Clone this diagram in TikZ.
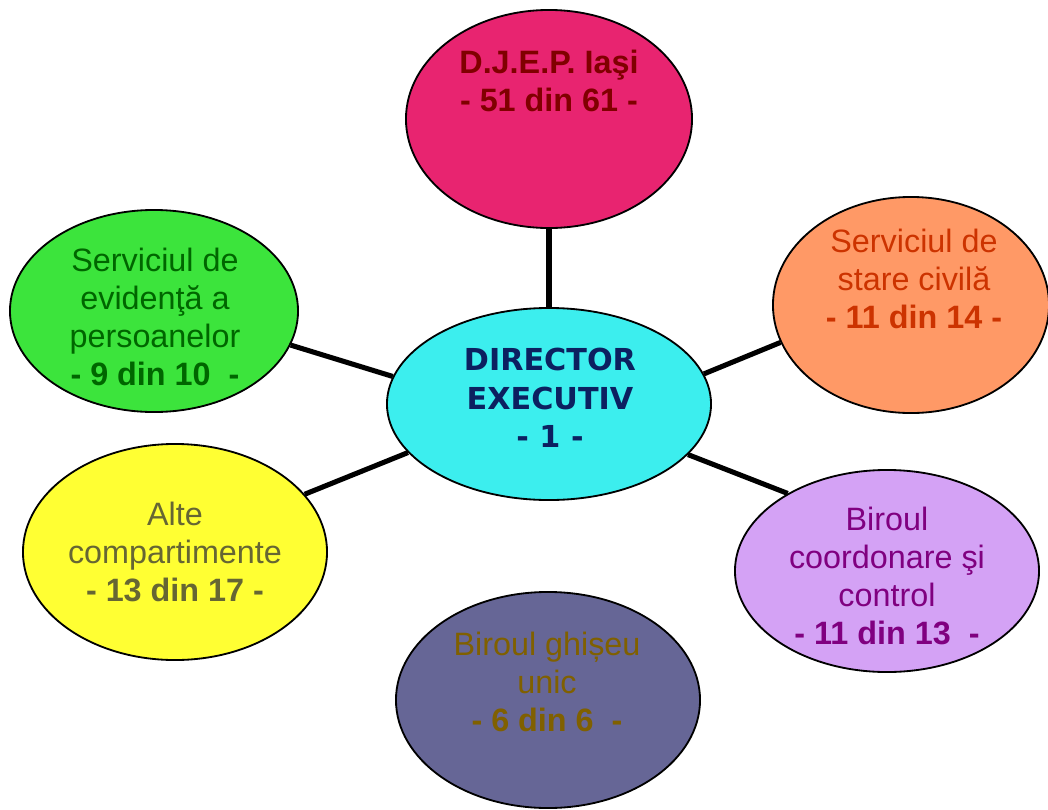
\documentclass[tikz,border=0pt]{standalone}
\usepackage{fontspec}
\setmainfont{Liberation Sans}
\newfontfamily\dirfont{DejaVu Sans}
\usetikzlibrary{shapes.geometric}

% fills
\definecolor{djepfill}{RGB}{232,36,112}
\definecolor{dirfill}{RGB}{60,238,238}
\definecolor{evidfill}{RGB}{60,228,60}
\definecolor{starefill}{RGB}{255,153,102}
\definecolor{altefill}{RGB}{255,255,51}
\definecolor{biroufill}{RGB}{212,162,245}
\definecolor{ghiseufill}{RGB}{102,102,150}
% texts
\definecolor{djeptext}{RGB}{128,0,0}
\definecolor{dirtext}{RGB}{12,32,96}
\definecolor{evidtext}{RGB}{0,102,0}
\definecolor{staretext}{RGB}{204,51,0}
\definecolor{altetext}{RGB}{102,102,51}
\definecolor{biroutext}{RGB}{128,0,128}
\definecolor{ghiseutext}{RGB}{128,96,0}

\tikzset{
  bubble/.style={ellipse, draw=black, line width=1.3pt, inner sep=0pt},
  txt/.style={align=center, font=\fontsize{23}{27}\selectfont},
  link/.style={line width=3.6pt}
}

\begin{document}
\begin{tikzpicture}[x=0.025cm, y=-0.025cm]
  \useasboundingbox (0,0) rectangle (1048,810);

  % Ellipses
  \node[bubble, fill=djepfill, minimum width=7.15cm, minimum height=5.45cm] (djep) at (549,119) {};
  \node[bubble, fill=dirfill, minimum width=8.1cm, minimum height=4.8cm] (dir) at (549,404) {};
  \node[bubble, fill=evidfill, minimum width=7.2cm, minimum height=5.05cm] (evid) at (154,311) {};
  \node[bubble, fill=starefill, minimum width=6.9cm, minimum height=5.4cm] (stare) at (911,305) {};
  \node[bubble, fill=altefill, minimum width=7.6cm, minimum height=5.4cm] (alte) at (175,552) {};
  \node[bubble, fill=biroufill, minimum width=7.6cm, minimum height=5.05cm] (birou) at (887,571) {};
  \node[bubble, fill=ghiseufill, minimum width=7.6cm, minimum height=5.4cm] (ghiseu) at (548,700) {};

  % Connectors
  \draw[link] (dir.90) -- (djep.-90);
  \draw[link] (dir.170) -- (evid.-14);
  \draw[link] (dir.11) -- (stare.196);
  \draw[link] (dir.199) -- (alte.24);
  \draw[link] (dir.-20) -- (birou.142);

  % Texts
  \node[txt, text=djeptext, font=\fontsize{23}{27}\selectfont\bfseries] (djepT) at (549,81)
    {D.J.E.P. Iaşi\\- 51 din 61 -};
  \node[txt, text=dirtext, font=\dirfont\fontsize{21.5}{27.5}\selectfont\bfseries] (dirT) at (550,398)
    {DIRECTOR\\EXECUTIV\\- 1 -};
  \node[txt, text=evidtext] (evidT) at (155,317)
    {Serviciul de\\evidenţă a\\persoanelor\\\textbf{- 9 din 10\ \ -}};
  \node[txt, text=staretext] (stareT) at (914,279)
    {Serviciul de\\stare civilă\\\textbf{- 11 din 14 -}};
  \node[txt, text=altetext] (alteT) at (175,552)
    {Alte\\compartimente\\\textbf{- 13 din 17 -}};
  \node[txt, text=biroutext] (birouT) at (887,576)
    {Biroul\\coordonare şi\\control\\\textbf{- 11 din 13\ \ -}};
  \node[txt, text=ghiseutext] (ghiseuT) at (547,682)
    {Biroul ghișeu\\unic\\\textbf{- 6 din 6\ \ -}};

\end{tikzpicture}
\end{document}
